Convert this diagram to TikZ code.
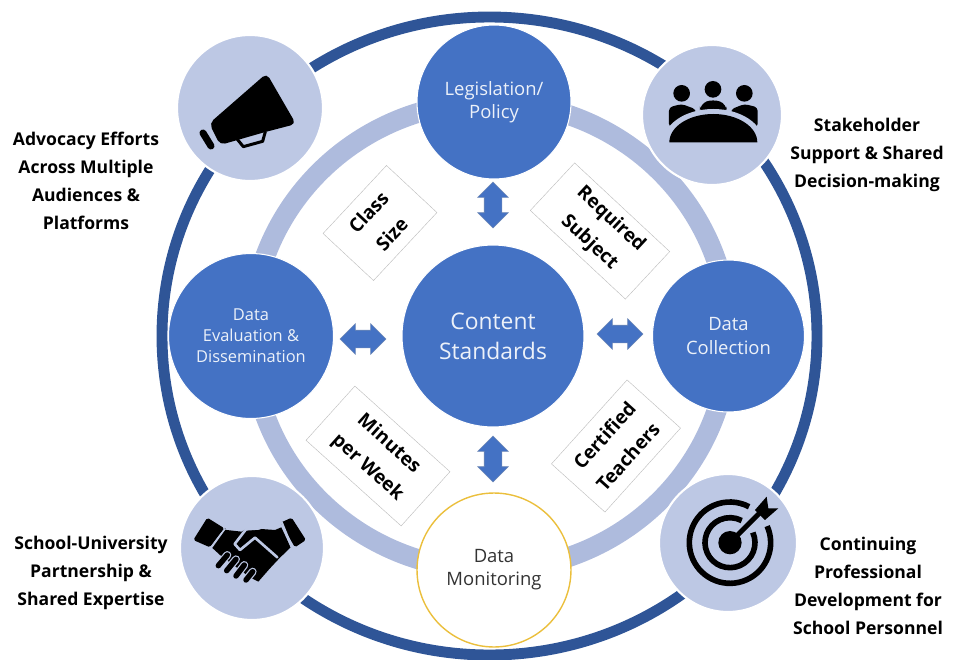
\documentclass[tikz,border=0pt]{standalone}
\usepackage{fontspec}
\setmainfont{Open Sans}
\usetikzlibrary{shapes.arrows}
\definecolor{mainblue}{HTML}{4472C4}
\definecolor{darkblue}{HTML}{2F5597}
\definecolor{ringblue}{HTML}{AEBBDD}
\definecolor{iconback}{HTML}{BDC8E4}
\definecolor{goldline}{HTML}{EBBF3C}
\tikzset{
    stagecircle/.style={circle,fill=mainblue,draw=white,line width=0.6pt,text=white!90!mainblue,align=center,inner sep=0,font=\fontsize{10.5}{13.2}\selectfont},
    iconcircle/.style={circle,fill=iconback,draw=white,line width=1.2pt,inner sep=0},
    factorbox/.style={draw=black!25,line width=0.25pt,fill=white,align=center,inner sep=0,font=\fontsize{10.8}{18}\selectfont\bfseries},
    sidelabel/.style={align=center,inner sep=0,font=\fontsize{10}{15.9}\selectfont\bfseries},
    blockarrow/.style={double arrow,fill=mainblue,draw=darkblue!70,line width=0.3pt,inner xsep=0,inner ysep=0.17cm,minimum height=0.92cm,double arrow head extend=0.13cm},
}
\begin{document}
\begin{tikzpicture}[x=0.02cm,y=-0.02cm]
    \useasboundingbox (0,0) rectangle (958,660);
    % rings
    \draw[darkblue,line width=6.2pt] (489.5,336) ellipse [x radius=327.5,y radius=319];
    \draw[ringblue,line width=11.4pt] (490,336) ellipse [x radius=239,y radius=234];
    % icon circles
    \node[iconcircle,minimum size=2.92cm] (megaphone) at (250,108) {};
    \node[iconcircle,minimum size=2.8cm] (group) at (712,115) {};
    \node[iconcircle,minimum size=2.88cm] (handshake) at (252,548) {};
    \node[iconcircle,minimum size=2.76cm] (target) at (728,543) {};
    % megaphone
    \begin{scope}[shift={(150,30)},scale=0.3333]
        \fill[rounded corners=3pt] (350,130) -- (438,282) -- (346,306) -- (210,345) -- (178,280) -- cycle;
        \draw[line width=1.7pt,line join=round] (262,328) -- (280,350) -- (338,334) -- (346,305);
        \draw[line width=4pt,line cap=round] (159,309) -- (183,348);
    \end{scope}
    % group
    \begin{scope}[shift={(620,30)},scale=0.3333]
        \foreach \headx/\heady in {185/190,279/178,373/190}
            \fill (\headx,\heady) circle (25);
        \fill[rounded corners=2pt] (147,292) -- (147,232) -- (185,222) -- (228,238) -- (228,270) -- (180,290) -- cycle;
        \fill[rounded corners=2pt] (413,292) -- (413,232) -- (373,222) -- (333,238) -- (333,270) -- (380,290) -- cycle;
        \fill[rounded corners=4pt] (240,250) -- (240,222) -- (279,207) -- (320,222) -- (320,250) -- cycle;
        \fill[iconback] (130,337) arc[start angle=180,end angle=360,x radius=150,y radius=100] -- cycle;
        \fill (148,337) arc[start angle=180,end angle=360,x radius=132,y radius=85] -- cycle;
    \end{scope}
    % handshake
    \begin{scope}[shift={(160,470)},scale=0.3333]
        \fill[rounded corners=1pt] (100,210) -- (142,143) -- (193,175) -- (150,232) -- cycle;
        \fill[rounded corners=1pt] (362,158) -- (395,143) -- (438,210) -- (405,232) -- cycle;
        \fill (182,178) -- (245,185) -- (262,174) -- (345,180) -- (364,172) -- (392,232) -- (358,265) -- (330,295) -- (295,335) -- (270,322) -- (180,255) -- (155,232) -- (198,175) -- cycle;
        \fill[iconback] (150,232) -- (193,175) -- (198,176) -- (155,236) -- cycle;
        \fill[iconback] (362,158) -- (392,232) -- (398,228) -- (368,155) -- cycle;
        \draw[iconback,line width=1.5pt,line join=round,line cap=round] (352,262) -- (285,203) -- (240,240) -- (224,222) -- (258,178) -- (300,175);
        \foreach \fingerax/\fingeray/\fingerbx/\fingerby in {175/287/202/255,200/302/228/268,228/318/253/285,258/330/278/305}
        {
            \draw[iconback,line width=4.5pt,line cap=round] (\fingerax,\fingeray) -- (\fingerbx,\fingerby);
            \draw[line width=3.1pt,line cap=round] (\fingerax,\fingeray) -- (\fingerbx,\fingerby);
        }
    \end{scope}
    % target
    \begin{scope}[shift={(640,460)},scale=0.3333]
        \fill (270,248) circle (35);
        \draw[line width=3.2pt] (270,248) ++(-24:75) arc[start angle=-24,end angle=298,radius=75];
        \draw[line width=3.2pt] (270,248) ++(-24:122) arc[start angle=-24,end angle=298,radius=122];
        \draw[line width=2.8pt] (270,248) -- (360,158);
        \fill (345,150) -- (380,110) -- (385,145) -- (415,145) -- (375,180) -- cycle;
    \end{scope}
    % stages
    \node[stagecircle,minimum size=3.08cm] (legislation) at (494,102) {Legislation/\\Policy};
    \node[stagecircle,minimum size=3.3cm,font=\fontsize{9.35}{11.9}\selectfont] (evaluation) at (251,336) {Data\\Evaluation \&\\Dissemination};
    \node[stagecircle,minimum size=3.04cm] (collection) at (728.5,336) {Data\\Collection};
    \node[stagecircle,minimum size=3.08cm,fill=white,draw=goldline,line width=0.8pt,text=black!80] (monitoring) at (494,570) {Data\\Monitoring};
    \node[stagecircle,minimum size=3.64cm,font=\fontsize{13}{17}\selectfont] (standards) at (493,336) {Content\\Standards};
    % factors
    \node[factorbox,rotate=47,minimum width=1.86cm,minimum height=1.38cm] (classsize) at (380,223) {Class\\Size};
    \node[factorbox,rotate=-43,minimum width=2.6cm,minimum height=1.3cm] (subject) at (600,231) {Required\\Subject};
    \node[factorbox,rotate=-42,minimum width=2.56cm,minimum height=1.46cm] (minutes) at (378,456) {Minutes\\per Week};
    \node[factorbox,rotate=48,minimum width=2.26cm,minimum height=1.44cm] (teachers) at (616,446) {Certified\\Teachers};
    % arrows
    \node[blockarrow,rotate=90] (arrowtop) at (493,205) {};
    \node[blockarrow,rotate=90] (arrowbottom) at (493,459) {};
    \node[blockarrow] (arrowleft) at (363,339) {};
    \node[blockarrow] (arrowright) at (620,334) {};
    % labels
    \node[sidelabel] (advocacy) at (86,181) {Advocacy Efforts\\Across Multiple\\Audiences \&\\Platforms};
    \node[sidelabel] (stakeholder) at (867,155) {Stakeholder\\Support \& Shared\\Decision-making};
    \node[sidelabel] (partnership) at (91,573) {School-University\\Partnership \&\\Shared Expertise};
    \node[sidelabel] (development) at (868,586) {Continuing\\Professional\\Development for\\School Personnel};
\end{tikzpicture}
\end{document}
